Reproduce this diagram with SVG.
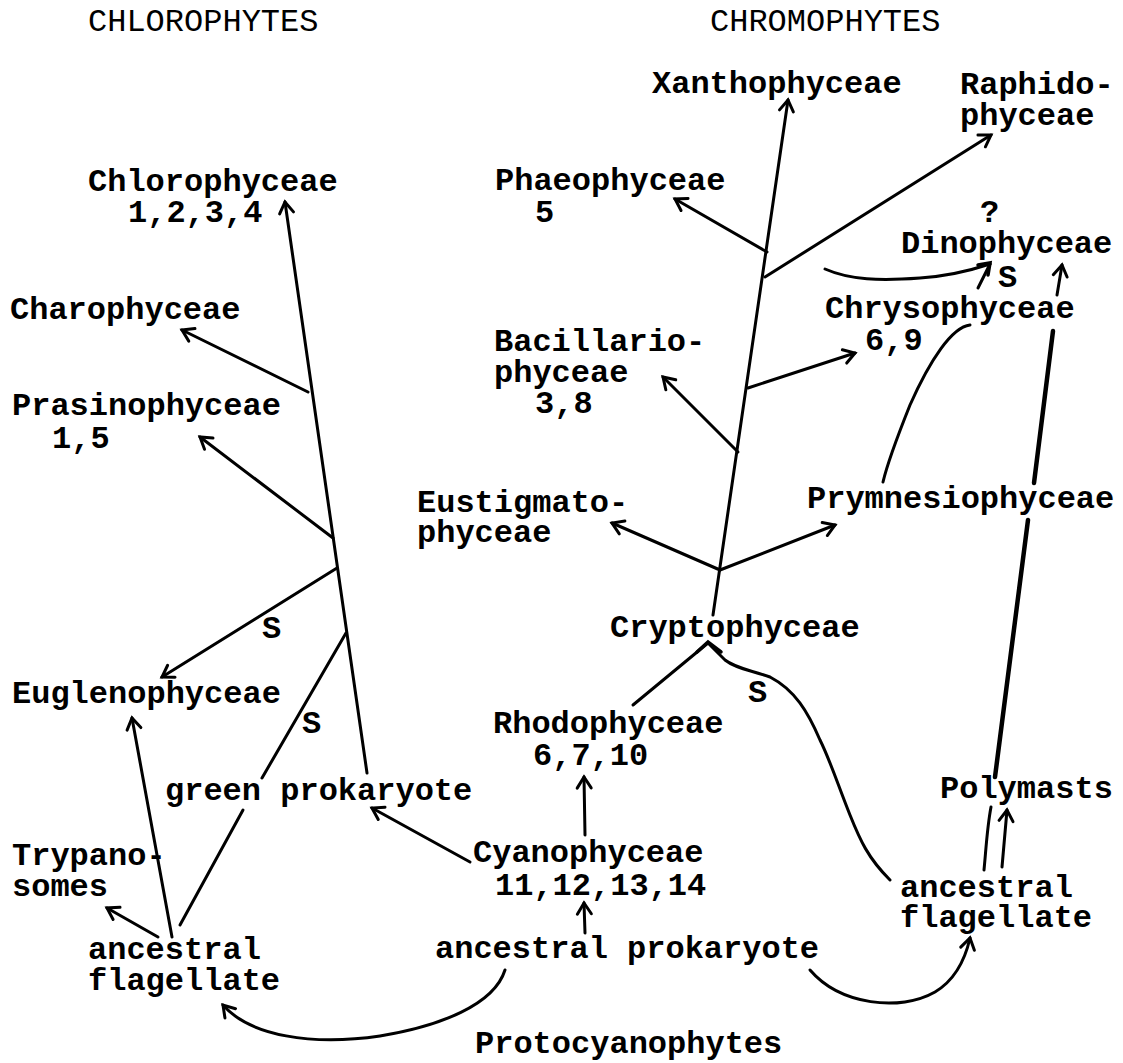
<svg xmlns="http://www.w3.org/2000/svg" width="1123" height="1063" viewBox="0 0 1123 1063">
<style>
text{font-family:"Liberation Mono","Courier New",monospace;font-size:32px;font-weight:bold;fill:#000}
text.hd{font-weight:normal}
.ln{fill:none;stroke:#000;stroke-width:3;stroke-linecap:round}
.ar{fill:none;stroke:#000;stroke-width:3;stroke-linecap:round;marker-end:url(#ah)}
.th{fill:none;stroke:#000;stroke-width:4.5;stroke-linecap:round}
.hd2{fill:none;stroke:#000;stroke-width:3.5;stroke-linejoin:miter;stroke-linecap:round}
</style>
<defs>
<marker id="ah" viewBox="-14 -10 16 20" refX="0" refY="0" markerWidth="16" markerHeight="20" markerUnits="userSpaceOnUse" orient="auto" overflow="visible">
<path d="M-11,-7 L0,0 L-11,7" fill="none" stroke="#000" stroke-width="3" stroke-linecap="round" stroke-linejoin="miter"/>
</marker>
</defs>
<rect width="1123" height="1063" fill="#fff"/>
<g id="connectors">
<line class="ar" x1="367" y1="773" x2="285" y2="202"/>
<line class="ar" x1="308" y1="392" x2="182" y2="330"/>
<line class="ar" x1="333" y1="538" x2="200" y2="437"/>
<line class="ar" x1="337" y1="568" x2="162" y2="677"/>
<line class="ln" x1="346" y1="633" x2="262" y2="778"/>
<line class="ln" x1="243" y1="810" x2="180" y2="925"/>
<line class="ar" x1="172" y1="937" x2="132" y2="718"/>
<line class="ar" x1="158" y1="937" x2="107" y2="908"/>
<line class="ar" x1="470" y1="862" x2="372" y2="808"/>
<path class="ar" d="M505,970 C494,1005 440,1026 380,1036 C312,1046 250,1036 223,1005"/>
<line class="ar" x1="585" y1="835" x2="584" y2="777"/>
<line class="ar" x1="585" y1="933" x2="584" y2="903"/>
<line class="ln" x1="633" y1="705" x2="708" y2="643"/>
<path class="ln" d="M890,880 C868,858 860,840 850,815 C838,785 830,760 820,740 C808,712 795,690 770,677 C750,670 735,668 725,660 L708,643"/>
<polyline class="hd2" points="697,652 708,642 721,652"/>
<line class="ar" x1="713" y1="615" x2="788" y2="100"/>
<line class="ar" x1="767" y1="252" x2="675" y2="199"/>
<line class="ar" x1="765" y1="277" x2="991" y2="135"/>
<line class="ar" x1="748" y1="388" x2="855" y2="353"/>
<line class="ar" x1="738" y1="452" x2="663" y2="377"/>
<line class="ar" x1="720" y1="570" x2="612" y2="523"/>
<line class="ar" x1="720" y1="570" x2="835" y2="525"/>
<path class="ar" d="M810,970 C840,1005 900,1012 935,992 C955,980 965,960 970,938"/>
<path class="ln" d="M825,269 C850,280 880,281 920,278 C950,276 972,270 990,264"/>
<line class="ln" x1="978" y1="288" x2="990" y2="264"/>
<polyline class="hd2" points="978,265 990,263 988,275"/>
<line class="ar" x1="1057" y1="295" x2="1062" y2="265"/>
<line class="th" x1="1053" y1="331" x2="1034" y2="483"/>
<line class="th" x1="1028" y1="520" x2="995" y2="777"/>
<path class="ln" d="M970,325 C952,327 930,360 910,405 C896,440 887,465 883,482"/>
<path class="ln" d="M984,870 C986,850 987,828 991,807"/>
<line class="ar" x1="1002" y1="867" x2="1007" y2="810"/>
</g>
<g id="header-chlorophytes"><text class="hd" x="88" y="31">CHLOROPHYTES</text></g>
<g id="header-chromophytes"><text class="hd" x="710" y="31">CHROMOPHYTES</text></g>
<g id="xanthophyceae"><text x="652" y="93">Xanthophyceae</text></g>
<g id="raphidophyceae"><text x="960" y="94">Raphido-</text><text x="960" y="125">phyceae</text></g>
<g id="chlorophyceae"><text x="88" y="191">Chlorophyceae</text><text x="128" y="222">1,2,3,4</text></g>
<g id="phaeophyceae"><text x="495" y="190">Phaeophyceae</text><text x="535" y="222">5</text></g>
<g id="dinophyceae"><text x="980" y="222">?</text><text x="901" y="253">Dinophyceae</text></g>
<g id="label-s-dino"><text x="998" y="287">S</text></g>
<g id="charophyceae"><text x="10" y="319">Charophyceae</text></g>
<g id="chrysophyceae"><text x="825" y="318">Chrysophyceae</text><text x="865" y="350">6,9</text></g>
<g id="bacillariophyceae"><text x="494" y="351">Bacillario-</text><text x="494" y="382">phyceae</text><text x="535" y="413">3,8</text></g>
<g id="prasinophyceae"><text x="12" y="415">Prasinophyceae</text><text x="52" y="448">1,5</text></g>
<g id="eustigmatophyceae"><text x="417" y="512">Eustigmato-</text><text x="417" y="542">phyceae</text></g>
<g id="prymnesiophyceae"><text x="807" y="508">Prymnesiophyceae</text></g>
<g id="cryptophyceae"><text x="610" y="637">Cryptophyceae</text></g>
<g id="label-s-eugl"><text x="262" y="638">S</text></g>
<g id="label-s-crypto"><text x="748" y="702">S</text></g>
<g id="euglenophyceae"><text x="12" y="703">Euglenophyceae</text></g>
<g id="label-s-green"><text x="302" y="733">S</text></g>
<g id="rhodophyceae"><text x="493" y="733">Rhodophyceae</text><text x="533" y="765">6,7,10</text></g>
<g id="polymasts"><text x="940" y="798">Polymasts</text></g>
<g id="green-prokaryote"><text x="165" y="800">green prokaryote</text></g>
<g id="cyanophyceae"><text x="473" y="862">Cyanophyceae</text><text x="495" y="895">11,12,13,14</text></g>
<g id="trypanosomes"><text x="12" y="865">Trypano-</text><text x="12" y="896">somes</text></g>
<g id="ancestral-flagellate-right"><text x="900" y="897">ancestral</text><text x="900" y="927">flagellate</text></g>
<g id="ancestral-prokaryote"><text x="435" y="958">ancestral prokaryote</text></g>
<g id="ancestral-flagellate-left"><text x="88" y="959">ancestral</text><text x="88" y="990">flagellate</text></g>
<g id="protocyanophytes"><text x="475" y="1053">Protocyanophytes</text></g>
</svg>
